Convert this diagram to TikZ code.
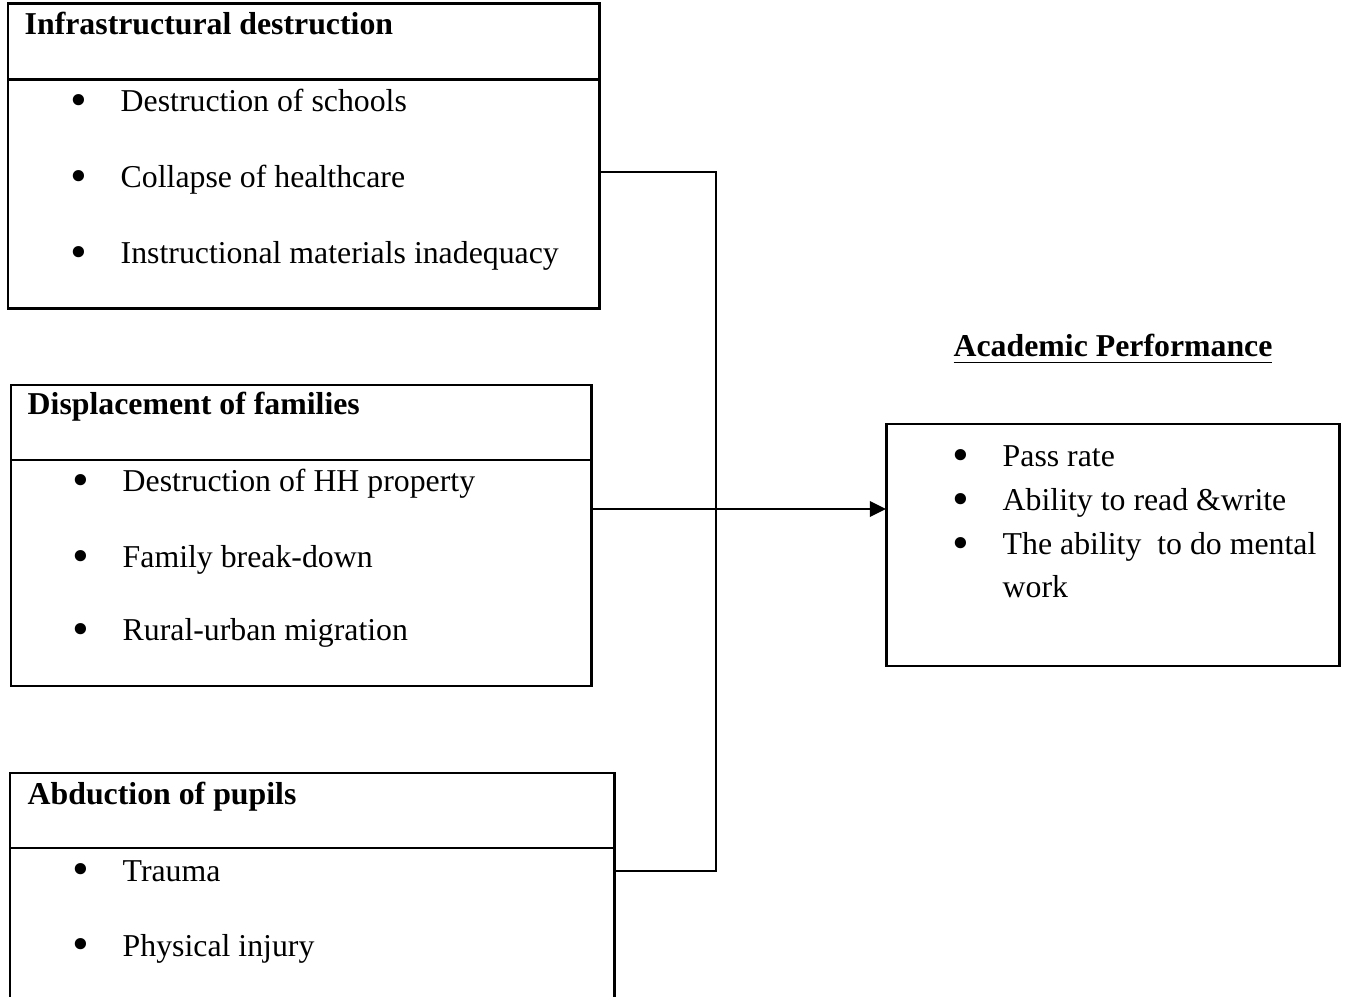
\documentclass[tikz,border=0pt]{standalone}
\usepackage{fontspec}
\setmainfont{Liberation Serif}
\newfontfamily\dotfont{DejaVu Sans}
\usetikzlibrary{arrows.meta,calc,positioning}

\newcommand{\itemdot}{\llap{\raisebox{-0.08em}{\dotfont\fontsize{11}{11}\selectfont •}\hspace{0.30cm}}}

\tikzset{
  panel/.style={draw,line width=0.85pt,anchor=north west,inner sep=0pt,outer sep=0pt},
  head/.style={anchor=base west,inner sep=0pt,font=\fontsize{9.05}{11}\selectfont\bfseries},
  item/.style={anchor=base west,inner sep=0pt},
  link/.style={line width=0.65pt},
}

\begin{document}
\begin{tikzpicture}[x=1cm,y=1cm,font=\fontsize{9.05}{12.5}\selectfont]
\useasboundingbox (0,0) rectangle (13.46,-9.97);

% causes
\node[panel,minimum width=5.91cm,minimum height=3.05cm] (infra) at (0.08,-0.04) {};
\draw[line width=0.85pt] (infra.west |- 0,-0.80) -- (infra.east |- 0,-0.80);
\node[head] (infrat) at (0.24,-0.35) {Infrastructural destruction};
\node[item] (infra1) at (1.20,-1.12) {\itemdot Destruction of schools};
\node[item] (infra2) at (1.20,-1.88) {\itemdot Collapse of healthcare};
\node[item] (infra3) at (1.20,-2.64) {\itemdot Instructional materials inadequacy};

\node[panel,minimum width=5.80cm,minimum height=3.01cm] (displ) at (0.11,-3.85) {};
\draw[line width=0.85pt] (displ.west |- 0,-4.60) -- (displ.east |- 0,-4.60);
\node[head] (displt) at (0.27,-4.15) {Displacement of families};
\node[item] (displ1) at (1.22,-4.92) {\itemdot Destruction of HH property};
\node[item] (displ2) at (1.22,-5.68) {\itemdot Family break-down};
\node[item] (displ3) at (1.22,-6.41) {\itemdot Rural-urban migration};

\node[panel,minimum width=6.04cm,minimum height=2.60cm] (abduct) at (0.10,-7.73) {};
\draw[line width=0.85pt] (abduct.west |- 0,-8.48) -- (abduct.east |- 0,-8.48);
\node[head] (abductt) at (0.27,-8.04) {Abduction of pupils};
\node[item] (abduct1) at (1.22,-8.81) {\itemdot Trauma};
\node[item] (abduct2) at (1.22,-9.56) {\itemdot Physical injury};

% outcome
\node[head,anchor=base] (perft) at (11.13,-3.57) {\underline{Academic Performance}};
\node[panel,minimum width=4.53cm,minimum height=2.42cm] (perf) at (8.86,-4.24) {};
\node[item] (perf1) at (10.02,-4.67) {\itemdot Pass rate};
\node[item] (perf2) at (10.02,-5.11) {\itemdot Ability to read \&write};
\node[item] (perf3) at (10.02,-5.55) {\itemdot The ability~ to do mental};
\node[item] (perf4) at (10.02,-5.98) {work};

% connectors
\coordinate (jtop) at (7.16,-1.72);
\coordinate (jmid) at (7.16,-5.09);
\coordinate (jbot) at (7.16,-8.71);
\draw[link] (infra.east |- jtop) -- (jtop) -- (jbot) -- (abduct.east |- jbot);
\draw[link,-{Triangle[length=4.6pt,width=4.4pt]}] (displ.east |- jmid) -- (perf.west |- jmid);
\end{tikzpicture}
\end{document}
